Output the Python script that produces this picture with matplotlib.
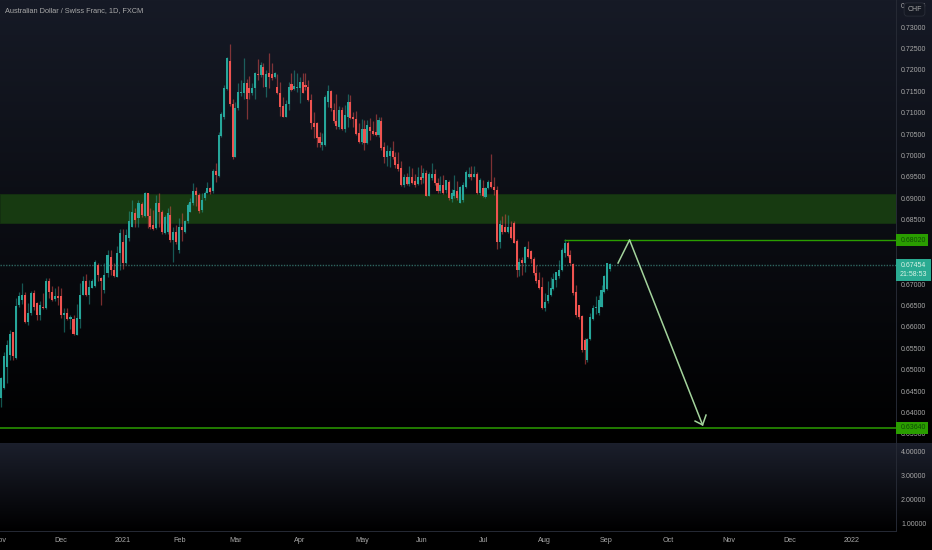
"""
AUD/CHF daily candles with resistance zone and short-setup drawing.
"""
import matplotlib

matplotlib.use("Agg")
import matplotlib.pyplot as plt
import numpy as np
from matplotlib.patches import Rectangle

plt.rcParams["font.family"] = ["Liberation Sans", "DejaVu Sans"]

W, H = 932, 550
AXIS_X = 896
PANE_Y = 443
TIME_Y = 531
PX_PER_PRICE = 4283

opens = [
    .6433, .6457, .6507, .6534, .6587, .6527, .6651, .6663, .6675, .6612,
    .6632, .6678, .6655, .6628, .6647, .6643, .6706, .6682, .6664, .6671,
    .6671, .6628, .6632, .6618, .6618, .6581, .6618, .6675, .6706, .6675,
    .6690, .6695, .6744, .6713, .6686, .6725, .6764, .6733, .6717, .6772,
    .6799, .6748, .6807, .6834, .6865, .6853, .6887, .6859, .6912, .6859,
    .6838, .6830, .6888, .6869, .6818, .6822, .6861, .6803, .6822, .6780,
    .6832, .6822, .6846, .6869, .6888, .6916, .6908, .6873, .6900, .6913,
    .6923, .6916, .6965, .6952, .7046, .7089, .7155, .7221, .7120, .6997,
    .7110, .7145, .7145, .7169, .7157, .7145, .7157, .7190, .7188, .7207,
    .7159, .7192, .7190, .7184, .7161, .7147, .7116, .7091, .7120, .7167,
    .7155, .7157, .7157, .7172, .7165, .7161, .7130, .7075, .7075, .7043,
    .7025, .7025, .7126, .7151, .7106, .7081, .7067, .7106, .7063, .7089,
    .7126, .7089, .7085, .7052, .7032, .7063, .7030, .7067, .7058, .7056,
    .7048, .7081, .7021, .6997, .6999, .7011, .6997, .6980, .6972, .6931,
    .6951, .6934, .6951, .6941, .6934, .6951, .6947, .6960, .6906, .6947,
    .6957, .6937, .6918, .6931, .6919, .6939, .6898, .6906, .6918, .6890,
    .6896, .6926, .6951, .6957, .6951, .6958, .6912, .6923, .6904, .6923,
    .6939, .6927, .6919, .6797, .6838, .6834, .6822, .6834, .6843, .6801,
    .6733, .6756, .6750, .6781, .6776, .6758, .6725, .6710, .6694, .6643,
    .6661, .6675, .6688, .6710, .6719, .6733, .6772, .6795, .6768, .6747,
    .6682, .6651, .6625, .6569, .6523, .6571, .6618, .6643, .6632, .6647,
    .6682, .6688, .6734,
]
closes = [
    .6480, .6532, .6558, .6583, .6532, .6649, .6672, .6675, .6612, .6632,
    .6678, .6647, .6628, .6651, .6643, .6706, .6682, .6663, .6671, .6667,
    .6628, .6632, .6618, .6624, .6583, .6620, .6675, .6706, .6675, .6694,
    .6708, .6752, .6721, .6706, .6721, .6768, .6733, .6719, .6772, .6818,
    .6748, .6815, .6848, .6869, .6850, .6888, .6861, .6912, .6859, .6834,
    .6828, .6888, .6867, .6822, .6857, .6865, .6803, .6822, .6799, .6834,
    .6825, .6848, .6885, .6892, .6916, .6908, .6871, .6896, .6912, .6923,
    .6914, .6965, .6955, .7048, .7097, .7157, .7227, .7120, .6996, .7110,
    .7149, .7149, .7169, .7133, .7145, .7157, .7192, .7188, .7211, .7188,
    .7190, .7183, .7180, .7192, .7147, .7114, .7089, .7120, .7161, .7153,
    .7162, .7161, .7172, .7147, .7159, .7130, .7075, .7066, .7040, .7030,
    .7032, .7137, .7151, .7110, .7081, .7069, .7106, .7063, .7095, .7126,
    .7087, .7085, .7050, .7032, .7061, .7030, .7071, .7058, .7050, .7048,
    .7083, .7017, .6997, .7011, .7011, .6996, .6978, .6968, .6931, .6951,
    .6934, .6951, .6937, .6931, .6949, .6944, .6960, .6906, .6957, .6957,
    .6935, .6916, .6931, .6912, .6943, .6900, .6912, .6919, .6900, .6927,
    .6931, .6962, .6957, .6951, .6958, .6912, .6944, .6906, .6923, .6939,
    .6926, .6919, .6797, .6840, .6822, .6822, .6834, .6807, .6795, .6733,
    .6752, .6750, .6787, .6762, .6758, .6725, .6708, .6690, .6643, .6659,
    .6675, .6690, .6711, .6727, .6733, .6780, .6795, .6766, .6748, .6678,
    .6628, .6624, .6545, .6545, .6571, .6624, .6643, .6647, .6663, .6686,
    .6719, .6748, .6747,
]
highs = [
    .6484, .6542, .6569, .6593, .6589, .6667, .6682, .6702, .6682, .6655,
    .6684, .6686, .6659, .6661, .6678, .6713, .6715, .6695, .6690, .6695,
    .6690, .6643, .6643, .6628, .6628, .6653, .6702, .6719, .6724, .6710,
    .6711, .6755, .6748, .6717, .6748, .6780, .6780, .6748, .6789, .6828,
    .6828, .6828, .6871, .6896, .6877, .6896, .6892, .6915, .6913, .6877,
    .6873, .6908, .6912, .6873, .6861, .6877, .6881, .6834, .6838, .6853,
    .6865, .6850, .6888, .6900, .6935, .6927, .6912, .6912, .6916, .6939,
    .6927, .6968, .6982, .7056, .7102, .7165, .7229, .7260, .7133, .7126,
    .7170, .7176, .7227, .7178, .7186, .7169, .7196, .7225, .7219, .7217,
    .7200, .7240, .7215, .7196, .7190, .7172, .7137, .7130, .7172, .7193,
    .7200, .7192, .7184, .7192, .7192, .7176, .7144, .7102, .7079, .7056,
    .7053, .7141, .7165, .7153, .7122, .7144, .7116, .7113, .7118, .7144,
    .7141, .7102, .7105, .7077, .7085, .7083, .7083, .7087, .7081, .7098,
    .7091, .7089, .7032, .7025, .7021, .7034, .7009, .7009, .6988, .6958,
    .6960, .6976, .6972, .6958, .6974, .6979, .6970, .6966, .6962, .6982,
    .6968, .6947, .6952, .6955, .6943, .6943, .6921, .6955, .6941, .6929,
    .6939, .6966, .6974, .6976, .6976, .6962, .6947, .6944, .6927, .6943,
    .7004, .6951, .6929, .6850, .6859, .6864, .6861, .6846, .6846, .6804,
    .6760, .6764, .6789, .6801, .6780, .6764, .6744, .6729, .6717, .6678,
    .6706, .6717, .6725, .6729, .6756, .6783, .6804, .6801, .6780, .6748,
    .6698, .6651, .6628, .6573, .6573, .6632, .6651, .6671, .6675, .6698,
    .6721, .6750, .6748,
]
lows = [
    .6414, .6454, .6468, .6523, .6523, .6524, .6647, .6653, .6608, .6604,
    .6628, .6640, .6616, .6616, .6641, .6641, .6667, .6661, .6661, .6651,
    .6620, .6589, .6615, .6594, .6580, .6580, .6597, .6675, .6673, .6653,
    .6690, .6692, .6706, .6651, .6678, .6717, .6721, .6716, .6716, .6733,
    .6734, .6747, .6801, .6834, .6834, .6834, .6857, .6857, .6830, .6828,
    .6826, .6828, .6834, .6817, .6817, .6817, .6799, .6752, .6794, .6773,
    .6801, .6820, .6843, .6867, .6885, .6881, .6865, .6869, .6896, .6912,
    .6910, .6912, .6939, .6951, .7043, .7085, .7153, .7116, .6993, .6996,
    .7106, .7139, .7133, .7085, .7133, .7141, .7133, .7176, .7184, .7161,
    .7137, .7157, .7176, .7180, .7144, .7092, .7089, .7089, .7106, .7151,
    .7153, .7149, .7122, .7145, .7153, .7128, .7063, .7040, .7019, .7019,
    .7014, .7022, .7114, .7105, .7075, .7063, .7061, .7060, .7056, .7067,
    .7085, .7067, .7048, .7030, .7028, .7013, .7028, .7036, .7048, .7046,
    .7044, .7013, .6983, .6976, .6974, .6993, .6970, .6965, .6929, .6926,
    .6931, .6929, .6934, .6927, .6931, .6934, .6935, .6906, .6906, .6943,
    .6931, .6912, .6912, .6910, .6912, .6895, .6892, .6900, .6895, .6890,
    .6892, .6923, .6947, .6944, .6949, .6910, .6908, .6904, .6900, .6921,
    .6923, .6908, .6781, .6783, .6817, .6822, .6820, .6804, .6795, .6717,
    .6719, .6721, .6729, .6760, .6748, .6721, .6702, .6688, .6641, .6638,
    .6655, .6672, .6685, .6694, .6713, .6731, .6762, .6764, .6744, .6675,
    .6622, .6618, .6542, .6513, .6519, .6569, .6616, .6630, .6628, .6646,
    .6680, .6685, .6731,
]

# listed bar number -> session on the time scale
anchor_bars = [0, 25, 47, 65, 77, 106, 150, 172, 212]
anchor_sessions = [0, 26.4, 50.1, 68, 79.7, 108, 151, 172.6, 212]

# 0.68000 and 0.67500 sit behind the price tags
price_ticks = [.735, .73, .725, .72, .715, .71, .705, .70, .695, .69, .685,
               .67, .665, .66, .655, .65, .645, .64, .635]
osc_ticks = [4, 3, 2, 1]

time_labels = ["Nov", "Dec", "2021", "Feb", "Mar", "Apr", "May", "Jun", "Jul", "Aug",
               "Sep", "Oct", "Nov", "Dec", "2022"]
time_ticks = [-0.8, 20.3, 41.9, 61.7, 81.2, 103.8, 125.4, 146.2, 167.8, 189,
              210.6, 232.2, 253.4, 274.6, 296.2]

zone_top, zone_bottom = .6910, .6842
upper_level, upper_level_start = .6802, 196
lower_level = .6364
last_price = .67454
last_time = "21:58:53"

path_x = [214.8, 218.8, 244.2]
path_y = [.6749, .6803, .6371]
head_x = [241.6, 244.2, 245.4]
head_y = [.6380, .6371, .6394]

UP = "#26a69a"
DOWN = "#ef5350"
LEVEL = "#2a9d00"
TEXT = "#a8a8a8"
AXIS_LINE = "#262a35"
PRICE_FS = 5.0


def gradient_rows(top, n):
    # top colour fading to black
    fade = np.linspace(1, 0, n)[:, None]
    return fade * np.array(matplotlib.colors.to_rgb(top))


def level_tag(ax, price, text):
    h = 12 / PX_PER_PRICE
    ax.add_patch(Rectangle((1, price - h / 2), 32 / AXIS_X, h, transform=ax.get_yaxis_transform(),
                           color=LEVEL, clip_on=False, zorder=6, lw=0))
    ax.text(1 + 17 / AXIS_X, price, text, transform=ax.get_yaxis_transform(), color="#0f4a06",
            fontsize=PRICE_FS, ha="center", va="center", zorder=7, clip_on=False)


def main():
    fig = plt.figure(figsize=(W / 100, H / 100), dpi=100, facecolor="black")

    # background gradients for both panes
    bg = fig.add_axes([0, 0, 1, 1], zorder=0)
    bg.axis("off")
    img = np.zeros((H, W, 3))
    img[:PANE_Y] = gradient_rows("#161a26", PANE_Y)[:, None, :]
    img[PANE_Y:TIME_Y] = gradient_rows("#1b1f2c", TIME_Y - PANE_Y)[:, None, :]
    bg.imshow(img, aspect="auto", interpolation="nearest")

    ax = fig.add_axes([0, 1 - PANE_Y / H, AXIS_X / W, PANE_Y / H], zorder=2, facecolor="none")
    ax2 = fig.add_axes([0, 1 - TIME_Y / H, AXIS_X / W, (TIME_Y - PANE_Y) / H], zorder=2, facecolor="none")

    x = np.interp(np.arange(len(closes)), anchor_bars, anchor_sessions)
    o, c, hi, lo = map(np.array, (opens, closes, highs, lows))
    up = c >= o
    colors = np.where(up, UP, DOWN)

    ax.axhspan(zone_bottom, zone_top, facecolor="#173a11", edgecolor="#143010", lw=0.7, zorder=1)
    ax.axhline(last_price, color="#2f6660", lw=1.0, ls=(0, (1, 1)), zorder=1.5)

    ax.vlines(x, lo, hi, colors=list(colors), lw=0.9, alpha=0.5, zorder=2)
    ax.bar(x, np.abs(c - o), bottom=np.minimum(o, c), width=0.72, color=list(colors), lw=0, zorder=3)

    ax.hlines(upper_level, upper_level_start, 400, color=LEVEL, lw=1.0, zorder=4)
    ax.axhline(lower_level, color=LEVEL, lw=1.1, zorder=4)

    ax.plot(path_x, path_y, color="#a3d39c", lw=1.1, zorder=5)
    ax.plot(head_x, head_y, color="#a3d39c", lw=1.1, zorder=5)

    ax.set_xlim(-0.24, 311.5)
    ax.set_ylim(.63288, .73631)
    ax.set_yticks(price_ticks)
    ax.set_yticklabels([f"{p:.5f}" for p in price_ticks])
    ax.yaxis.tick_right()
    ax.tick_params(axis="y", length=0, pad=3.6, labelsize=PRICE_FS, labelcolor=TEXT)
    ax.set_xticks([])
    for side in ("top", "left", "bottom"):
        ax.spines[side].set_visible(False)
    ax.spines["right"].set_color(AXIS_LINE)
    ax.spines["right"].set_linewidth(0.7)

    level_tag(ax, upper_level, "0.68020")
    level_tag(ax, lower_level, "0.63640")

    # last price tag
    tag_h = 22 / PX_PER_PRICE
    tag_mid = last_price - 5.5 / PX_PER_PRICE
    ax.add_patch(Rectangle((1, tag_mid - tag_h / 2), 35 / AXIS_X, tag_h, transform=ax.get_yaxis_transform(),
                           color="#2aab92", clip_on=False, zorder=6, lw=0))
    ax.text(1 + 17 / AXIS_X, tag_mid, f"{last_price:.5f}\n{last_time}", transform=ax.get_yaxis_transform(),
            color="#d8f3e6", fontsize=PRICE_FS, ha="center", va="center", linespacing=1.25, zorder=7, clip_on=False)

    ax2.set_xlim(-0.24, 311.5)
    ax2.set_ylim(0.662, 4.38)
    ax2.set_yticks(osc_ticks)
    ax2.set_yticklabels([f"{v:.5f}" for v in osc_ticks])
    ax2.yaxis.tick_right()
    ax2.tick_params(axis="y", length=0, pad=3.6, labelsize=PRICE_FS, labelcolor=TEXT)
    ax2.set_xticks(time_ticks)
    ax2.set_xticklabels(time_labels)
    ax2.tick_params(axis="x", length=0, pad=4.2, labelsize=5.2, labelcolor=TEXT)
    for side in ("top", "left"):
        ax2.spines[side].set_visible(False)
    for side in ("right", "bottom"):
        ax2.spines[side].set_color(AXIS_LINE)
        ax2.spines[side].set_linewidth(0.7)

    fig.text(5 / W, 1 - 11 / H, "Australian Dollar / Swiss Franc, 1D, FXCM", color=TEXT, fontsize=5.3,
             ha="left", va="center", zorder=5)

    # currency badge over the top of the scale
    fig.text(914.5 / W, 1 - 9.5 / H, "CHF", color=TEXT, fontsize=5.0, ha="center", va="center", zorder=5,
             bbox=dict(boxstyle="round,pad=0.45", fc="#141822", ec="#2a2e39", lw=0.6))

    fig.savefig("out.png", dpi=100, facecolor="black")


if __name__ == "__main__":
    main()
